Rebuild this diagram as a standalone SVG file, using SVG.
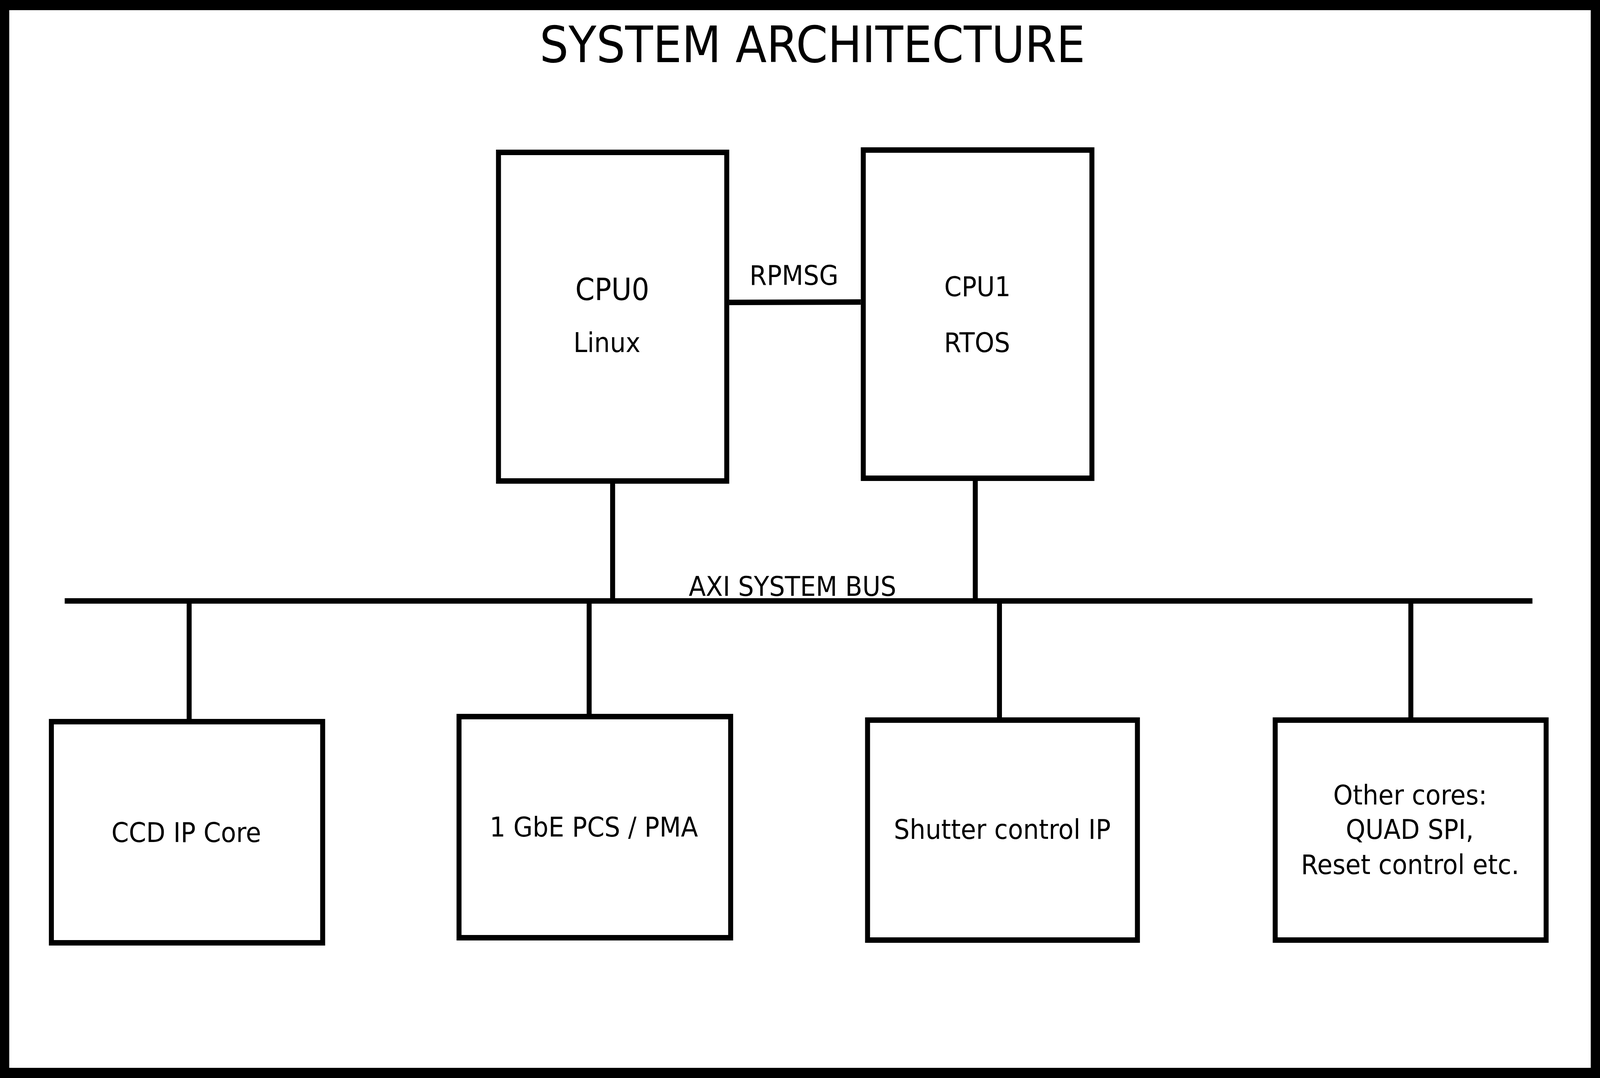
<svg xmlns="http://www.w3.org/2000/svg" width="4500" height="2759" viewBox="0 0 4500 2759" preserveAspectRatio="none">
<style>
svg:root{width:100vw;height:100vh;display:block}
.box{fill:#fff;stroke:#000;stroke-width:14}
.wire{stroke:#000;stroke-width:14;fill:none}
text{font-family:"DejaVu Sans","Liberation Sans",sans-serif;fill:#000;text-anchor:middle;font-size:70px}
</style>
<rect x="0" y="0" width="4500" height="2759" fill="#fff"/>
<rect id="frame" x="13" y="13" width="4474" height="2733" fill="none" stroke="#000" stroke-width="26"/>
<text id="title" x="2285" y="159" style="font-size:128px">SYSTEM ARCHITECTURE</text>
<g id="connectors">
<line class="wire" x1="2051" y1="774" x2="2421" y2="773"/>
<line class="wire" x1="1723" y1="1238" x2="1723" y2="1538"/>
<line class="wire" x1="2743" y1="1231" x2="2743" y2="1538"/>
<line class="wire" x1="182" y1="1538" x2="4310" y2="1538"/>
<line class="wire" x1="532" y1="1538" x2="532" y2="1840"/>
<line class="wire" x1="1657" y1="1538" x2="1657" y2="1827"/>
<line class="wire" x1="2811" y1="1538" x2="2811" y2="1836"/>
<line class="wire" x1="3968" y1="1538" x2="3968" y2="1836"/>
<text x="2233" y="729">RPMSG</text>
<text x="2229" y="1525">AXI SYSTEM BUS</text>
</g>
<g id="cpu0">
<rect class="box" x="1402" y="390" width="642" height="841"/>
<text x="1722" y="768" style="font-size:78px">CPU0</text>
<text x="1707" y="901">Linux</text>
</g>
<g id="cpu1">
<rect class="box" x="2428" y="384" width="643" height="840"/>
<text x="2749" y="758">CPU1</text>
<text x="2748" y="901">RTOS</text>
</g>
<g id="ccd">
<rect class="box" x="144.5" y="1847" width="763" height="566"/>
<text x="524" y="2155">CCD IP Core</text>
</g>
<g id="gbe">
<rect class="box" x="1291" y="1834" width="764" height="566"/>
<text x="1670" y="2141">1 GbE PCS / PMA</text>
</g>
<g id="shutter">
<rect class="box" x="2440" y="1843" width="759" height="563"/>
<text x="2819" y="2147">Shutter control IP</text>
</g>
<g id="other">
<rect class="box" x="3586.5" y="1843" width="762" height="563"/>
<text x="3966" y="2059">Other cores:</text>
<text x="3965" y="2147">QUAD SPI,</text>
<text x="3966" y="2237">Reset control etc.</text>
</g>
</svg>
